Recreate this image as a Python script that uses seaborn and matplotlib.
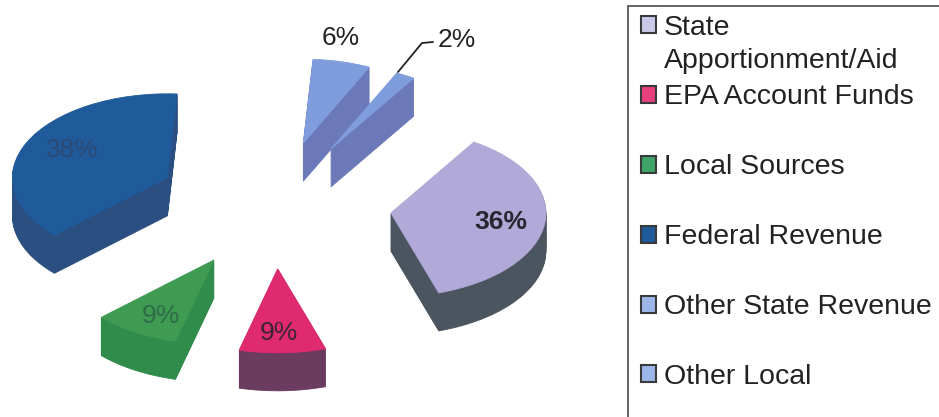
import numpy as np
import matplotlib
matplotlib.use("Agg")
import matplotlib.pyplot as plt
from matplotlib.patches import Patch, Rectangle
from matplotlib.legend_handler import HandlerPatch
import seaborn as sns

categories = ["State\nApportionment/Aid", "EPA Account Funds\n ", "Local Sources\n ",
              "Federal Revenue\n ", "Other State Revenue\n ", "Other Local"]
shares = [36, 9, 9, 38, 6, 2]

top_colors = sns.color_palette(["#B1A9D8", "#DF2A70", "#3F9A52", "#1F5A9B", "#7F9CDD", "#7F9CDD"])
side_colors = sns.color_palette(["#4B5560", "#6C3B60", "#2F8C4A", "#2B4F80", "#6B79B8", "#6B79B8"])
swatch_colors = sns.color_palette(["#C9C9EA", "#E8407F", "#3FA468", "#1F5A9B", "#9DB6EA", "#9DB6EA"])
label_colors = ["#26262E", "#3A2436", "#2E6B48", "#2C4A72", "#222222", "#222222"]
label_px = [(501, 222), (279, 333), (161, 316), (72, 150), (341, 38), (457, 40)]

W, H = 939, 417
PX_X, PX_Y = 155, 84
CX, CY = 274, 205
DEPTH_PX = 38

sns.set_theme(style="white")
plt.rcParams["font.family"] = ["Liberation Sans", "DejaVu Sans"]

fig = plt.figure(figsize=(W / 100, H / 100), dpi=100)
ax = fig.add_axes([0, 0, 1, 1])


def to_axes(x, y):
    return x / W, 1 - y / H


for d in range(DEPTH_PX, -1, -1):
    cols = top_colors if d == 0 else side_colors
    ax.pie(shares, explode=[0.76] * len(shares), startangle=57.6, counterclock=False,
           colors=cols, center=(0, -d / PX_Y), radius=1, frame=False,
           wedgeprops=dict(linewidth=0.6))
    for w, c in zip(ax.patches[-len(shares):], cols):
        w.set_edgecolor(c)

ax.set_aspect("auto")
ax.set_xlim(-CX / PX_X, (W - CX) / PX_X)
ax.set_ylim(-(H - CY) / PX_Y, CY / PX_Y)
ax.set_axis_off()

for v, (x, y), c in zip(shares, label_px, label_colors):
    ax.text(*to_axes(x, y), f"{v}%", transform=ax.transAxes, ha="center", va="center",
            fontsize=19, color=c, fontweight="bold" if v == 36 else "normal")

xs, ys = zip(to_axes(398, 72), to_axes(422, 43), to_axes(433, 42))
ax.plot(xs, ys, transform=ax.transAxes, color="#222222", lw=1.3)

fx, fy = to_axes(628, 6)
ax.add_patch(Rectangle((fx, -0.2), 0.5, fy + 0.2, transform=ax.transAxes, fill=False,
                       edgecolor="#4A4A4A", lw=1.2, clip_on=True))

handles = [Patch(facecolor=c, edgecolor="#3A3A3A", linewidth=1.5) for c in swatch_colors]


def raised_swatch(legend, orig_handle, xdescent, ydescent, width, height, fontsize):
    lift = 0 if orig_handle is handles[-1] else 14
    return Rectangle((-xdescent, -ydescent + lift), width, height)


leg = ax.legend(handles, categories, loc="upper left", bbox_to_anchor=to_axes(632, 6),
                bbox_transform=ax.transAxes, frameon=False, fontsize=20.5, handlelength=0.55,
                handleheight=0.55, handletextpad=0.26, labelspacing=0.36, borderaxespad=0,
                borderpad=0.3, labelcolor="#222222",
                handler_map={Patch: HandlerPatch(patch_func=raised_swatch)})
for t in leg.get_texts():
    t.set_linespacing(1.38)

fig.savefig("out.png", dpi=100, facecolor="white")
